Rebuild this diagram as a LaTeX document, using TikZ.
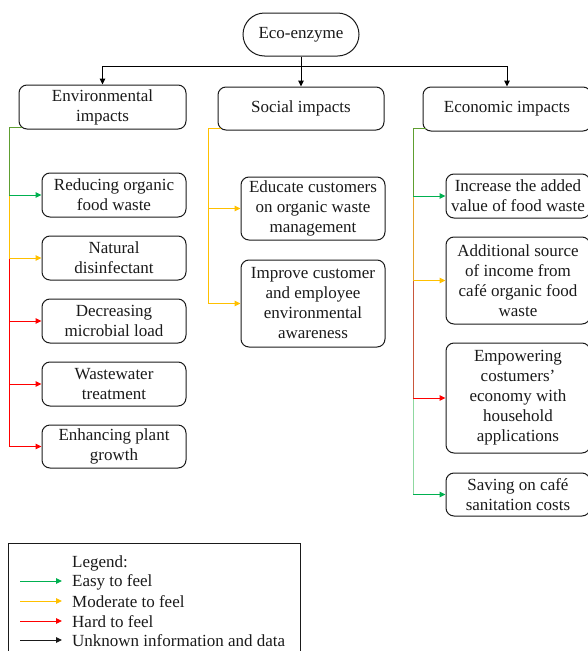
\documentclass[tikz,border=0pt]{standalone}
\usepackage{fontspec}
\setmainfont{Liberation Serif}
\usetikzlibrary{arrows.meta}
\definecolor{cgreen}{HTML}{00B050}
\definecolor{colive}{HTML}{5E9E30}
\definecolor{cyellow}{HTML}{FFC000}
\definecolor{corange}{HTML}{E5A22A}
\definecolor{cred}{HTML}{FF0000}
\definecolor{cbrown}{HTML}{C8573C}
\definecolor{clgreen}{HTML}{8FD8A0}
\definecolor{ctext}{HTML}{1A1A1A}
\tikzset{
  box/.style={draw=ctext, line width=1pt, rounded corners=8pt, align=center, inner sep=0pt,
    font=\fontsize{17}{20}\selectfont, text=ctext},
  tip/.style={-{Triangle[length=6pt,width=5.5pt]}},
  conn/.style={line width=1pt},
  lg/.style={anchor=west, inner sep=0pt, font=\fontsize{17}{20}\selectfont, text=ctext}
}
\begin{document}
\begin{tikzpicture}[x=1pt,y=-1pt]
\useasboundingbox (0,0) rectangle (587,651);
% top
\node[box, rounded corners=21.5pt, minimum width=116pt, minimum height=43pt] (eco) at (301,34.5) {Eco-enzyme};
\node[box, minimum width=167pt, minimum height=44pt] (env) at (102.5,107) {Environmental\\impacts};
\node[box, minimum width=166pt, minimum height=43pt] (soc) at (301,108.5) {Social impacts};
\node[box, minimum width=168pt, minimum height=44pt] (ecn) at (507,109) {Economic impacts};
\coordinate (hub) at (301,66);
\draw[conn,tip] (eco.south) -- (hub) -| (env.north);
\draw[conn,tip] (hub) -| (ecn.north);
\draw[conn,tip] (hub) -- (soc.north);
% environmental children
\node[box, minimum width=144pt, minimum height=44pt] (e1) at (114,195) {Reducing organic\\food waste};
\node[box, minimum width=144pt, minimum height=44pt] (e2) at (114,258) {Natural\\disinfectant};
\node[box, minimum width=144pt, minimum height=44pt] (e3) at (114,321) {Decreasing\\microbial load};
\node[box, minimum width=144pt, minimum height=44pt] (e4) at (114,384) {Wastewater\\treatment};
\node[box, minimum width=144pt, minimum height=43pt] (e5) at (114,446.5) {Enhancing plant\\growth};
\coordinate (et) at (9,127.5);
\coordinate (eb1) at (9,195);
\coordinate (eb2) at (9,258);
\coordinate (eb3) at (9,321);
\coordinate (eb4) at (9,384);
\coordinate (eb5) at (9,446.5);
\draw[conn,colive] (22,127.5) -- (et) -- (eb1);
\draw[conn,cyellow] (eb1) -- (eb2);
\draw[conn,cred] (eb2) -- (eb5);
\draw[conn,tip,cgreen] (eb1) -- (e1.west);
\draw[conn,tip,cyellow] (eb2) -- (e2.west);
\draw[conn,tip,cred] (eb3) -- (e3.west);
\draw[conn,tip,cred] (eb4) -- (e4.west);
\draw[conn,tip,cred] (eb5) -- (e5.west);
% social children
\node[box, minimum width=144pt, minimum height=63pt] (s1) at (313,208.5) {Educate customers\\on organic waste\\management};
\node[box, minimum width=144pt, minimum height=87pt] (s2) at (313,303.5) {Improve customer\\and employee\\environmental\\awareness};
\coordinate (st) at (208,128.5);
\coordinate (sb1) at (208,208.5);
\coordinate (sb2) at (208,303.5);
\draw[conn,cyellow] (221,128.5) -- (st) -- (sb2);
\draw[conn,tip,cyellow] (sb1) -- (s1.west);
\draw[conn,tip,cyellow] (sb2) -- (s2.west);
% economic children
\node[box, minimum width=144pt, minimum height=44pt] (c1) at (518,196) {Increase the added\\value of food waste};
\node[box, minimum width=144pt, minimum height=87pt] (c2) at (518,280.5) {Additional source\\of income from\\café organic food\\waste};
\node[box, minimum width=144pt, minimum height=110pt] (c3) at (518,398) {Empowering\\costumers’\\economy with\\household\\applications};
\node[box, minimum width=144pt, minimum height=43pt] (c4) at (518,494.5) {Saving on café\\sanitation costs};
\coordinate (ct) at (413,128.5);
\coordinate (cb1) at (413,196);
\coordinate (cb2) at (413,280.5);
\coordinate (cb3) at (413,398);
\coordinate (cb4) at (413,494.5);
\draw[conn,colive] (426,128.5) -- (ct) -- (cb1);
\draw[conn,corange] (cb1) -- (cb2);
\draw[conn,cbrown] (cb2) -- (cb3);
\draw[conn,clgreen] (cb3) -- (cb4);
\draw[conn,tip,cgreen] (cb1) -- (c1.west);
\draw[conn,tip,cyellow] (cb2) -- (c2.west);
\draw[conn,tip,cred] (cb3) -- (c3.west);
\draw[conn,tip,cgreen] (cb4) -- (c4.west);
% legend
\draw[line width=1pt, draw=ctext] (8,543) rectangle (300,660);
\node[lg] (lt) at (72,563) {Legend:};
\node[lg] (l1) at (72,582) {Easy to feel};
\node[lg] (l2) at (72,602) {Moderate to feel};
\node[lg] (l3) at (72,622) {Hard to feel};
\node[lg] (l4) at (72,641) {Unknown information and data};
\coordinate (la1) at (20,581);
\coordinate (la2) at (20,601);
\coordinate (la3) at (20,621);
\coordinate (la4) at (20,640);
\draw[conn,tip,cgreen] (la1) -- (62,581);
\draw[conn,tip,cyellow] (la2) -- (62,601);
\draw[conn,tip,cred] (la3) -- (62,621);
\draw[conn,tip,ctext] (la4) -- (62,640);
\end{tikzpicture}
\end{document}
